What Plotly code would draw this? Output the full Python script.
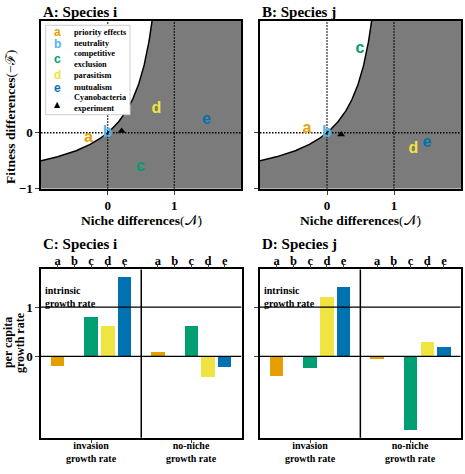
import numpy as np
import plotly.graph_objects as go

W, H = 465, 474

# ---------------- data ----------------
letters = ["a", "b", "c", "d", "e"]
colors = ["#E69F00", "#56B4E9", "#009E73", "#F0E442", "#0072B2"]
legend_labels = ["priority effects", "neutrality", "competitive<br>exclusion",
                 "parasitism", "mutualism"]
group_labels = ["invasion<br>growth rate", "no-niche<br>growth rate"]

A_niche = [-0.29, 0.0, 0.49, 0.73, 1.48]
A_fitness = [-0.09, 0.0, -0.61, 0.42, 0.22]
A_exp = [0.21, 0.03]

B_niche = [-0.30, 0.0, 0.49, 1.29, 1.49]
B_fitness = [0.07, 0.0, 1.49, -0.29, -0.19]
B_exp = [0.21, -0.03]

C_invasion = [-0.20, 0.0, 0.80, 0.60, 1.60]
C_noniche = [0.07, 0.0, 0.60, -0.42, -0.22]
D_invasion = [-0.40, 0.0, -0.25, 1.20, 1.40]
D_noniche = [-0.07, 0.0, -1.50, 0.29, 0.18]

bar_pos_inv = [1, 2, 3, 4, 5]
bar_pos_non = [7, 8, 9, 10, 11]
group_pos = [3, 9]

SERIF = "Liberation Serif"
SANS = "Liberation Sans"
GREY = "#7b7b7b"
DOT = "1.5px,1.5px"


def px(x):
    return x / W


def py(y):
    return 1 - y / H


fig = go.Figure()

# ---------------- top panels ----------------
N = np.linspace(-1, 2 / 3, 200)
F = N / (1 - N)
for xa, ya, nx, fy, ex in [("x", "y", A_niche, A_fitness, A_exp),
                           ("x2", "y2", B_niche, B_fitness, B_exp)]:
    poly_x = list(N) + [2, 2, -1]
    poly_y = list(F) + [2, -1, -1]
    fig.add_trace(go.Scatter(x=poly_x, y=poly_y, fill="toself", fillcolor=GREY,
                             mode="none", xaxis=xa, yaxis=ya, showlegend=False,
                             hoverinfo="skip"))
    fig.add_trace(go.Scatter(x=N, y=F, mode="lines", line=dict(color="black", width=1.5),
                             xaxis=xa, yaxis=ya, showlegend=False, hoverinfo="skip"))
    fig.add_trace(go.Scatter(x=[-1, 2], y=[0, 0], mode="lines",
                             line=dict(color="black", width=1.3, dash=DOT),
                             xaxis=xa, yaxis=ya, showlegend=False, hoverinfo="skip"))
    for v in [0, 1]:
        fig.add_trace(go.Scatter(x=[v, v], y=[-1, 2], mode="lines",
                                 line=dict(color="black", width=1.3, dash=DOT),
                                 xaxis=xa, yaxis=ya, showlegend=False, hoverinfo="skip"))
    fig.add_trace(go.Scatter(x=nx, y=fy, mode="text", text=[f"<b>{l}</b>" for l in letters],
                             textfont=dict(family=SANS, size=16, color=colors),
                             textposition="middle center",
                             xaxis=xa, yaxis=ya, showlegend=False, hoverinfo="skip"))
    fig.add_trace(go.Scatter(x=[ex[0]], y=[ex[1]], mode="markers",
                             marker=dict(symbol="triangle-up", size=7, color="black"),
                             xaxis=xa, yaxis=ya, showlegend=False, hoverinfo="skip"))

# ---------------- bottom panels ----------------
for xa, ya, inv, non in [("x3", "y3", C_invasion, C_noniche),
                         ("x4", "y4", D_invasion, D_noniche)]:
    fig.add_trace(go.Bar(x=bar_pos_inv + bar_pos_non, y=inv + non,
                         marker=dict(color=colors + colors, line=dict(width=0)),
                         width=0.8, xaxis=xa, yaxis=ya, showlegend=False,
                         hoverinfo="skip"))

tickfont = dict(family=SERIF, size=13, color="black", weight="bold")
frame = dict(showline=True, linecolor="black", linewidth=1.5, mirror=True,
             showgrid=False, zeroline=False)

top_y = [py(192), py(21)]
bot_y = [py(445.3), py(274)]
A_x = [px(41), px(241)]
B_x = [px(260), px(461)]
C_x = [px(41), px(241.5)]
D_x = [px(260), px(460.7)]
let_tickfont = dict(family=SERIF, size=12.5, color="black", weight="bold")

lay = dict(
    width=W, height=H, autosize=False, margin=dict(l=0, r=0, t=0, b=0),
    paper_bgcolor="white", plot_bgcolor="white", bargap=0,
    xaxis=dict(domain=A_x, anchor="y", range=[-1, 2], tickvals=[0, 1], ticktext=["0", "1"],
               ticks="outside", ticklen=4, ticklabelstandoff=0, tickfont=tickfont, **frame),
    yaxis=dict(domain=top_y, anchor="x", range=[-1, 2], tickvals=[-1, 0],
               ticktext=["\u22121", "0"], ticks="outside", ticklen=4, tickfont=tickfont, **frame),
    xaxis2=dict(domain=B_x, anchor="y2", range=[-1, 2], tickvals=[0, 1], ticktext=["0", "1"],
                ticks="outside", ticklen=4, ticklabelstandoff=0, tickfont=tickfont, **frame),
    yaxis2=dict(domain=top_y, anchor="x2", range=[-1, 2], tickvals=[-1, 0],
                showticklabels=False, ticks="outside", ticklen=4, **frame),
    xaxis3=dict(domain=C_x, anchor="y3", range=[0, 12], tickvals=group_pos,
                showticklabels=False, ticks="outside", ticklen=3, **frame),
    yaxis3=dict(domain=bot_y, anchor="x3", range=[-1.66, 1.77], tickvals=[0, 1],
                ticktext=["0", "1"], ticks="outside", ticklen=4, tickfont=tickfont, **frame),
    xaxis4=dict(domain=D_x, anchor="y4", range=[0, 12], tickvals=group_pos,
                showticklabels=False, ticks="outside", ticklen=3, **frame),
    yaxis4=dict(domain=bot_y, anchor="x4", range=[-1.66, 1.77], tickvals=[0, 1],
                showticklabels=False, ticks="outside", ticklen=4, **frame),
    xaxis5=dict(domain=C_x, anchor="y3", overlaying="x3", side="top",
                range=[0, 12], tickvals=bar_pos_inv + bar_pos_non, ticktext=letters * 2,
                ticks="outside", ticklen=3, ticklabelstandoff=-5, showgrid=False,
                zeroline=False, showline=False, tickfont=let_tickfont),
    xaxis6=dict(domain=D_x, anchor="y4", overlaying="x4", side="top",
                range=[0, 12], tickvals=bar_pos_inv + bar_pos_non, ticktext=letters * 2,
                ticks="outside", ticklen=3, ticklabelstandoff=-5, showgrid=False,
                zeroline=False, showline=False, tickfont=let_tickfont),
)
fig.update_layout(**lay)
fig.add_trace(go.Scatter(x=[0], y=[0], mode="markers", marker=dict(opacity=0),
                         xaxis="x5", yaxis="y3", showlegend=False, hoverinfo="skip"))
fig.add_trace(go.Scatter(x=[0], y=[0], mode="markers", marker=dict(opacity=0),
                         xaxis="x6", yaxis="y4", showlegend=False, hoverinfo="skip"))

shapes = []
anns = []


def txt(x, y, text, size, xanchor="left", angle=0, family=SERIF, color="black",
        align="left"):
    anns.append(dict(xref="paper", yref="paper", x=px(x), y=py(y), xanchor=xanchor,
                     yanchor="middle", text=text, showarrow=False, textangle=angle,
                     align=align, font=dict(family=family, size=size, color=color)))


for xa, ya, x0 in [("x3", "y3", 41), ("x4", "y4", 260)]:
    for v in [0, 1]:
        shapes.append(dict(type="line", xref=xa, yref=ya, x0=0, x1=12, y0=v, y1=v,
                           line=dict(color="black", width=1.2), layer="above"))
    shapes.append(dict(type="line", xref=xa, yref=f"{ya} domain", x0=6, x1=6, y0=0, y1=1,
                       line=dict(color="black", width=1.5), layer="above"))
    txt(x0 + 2, 302, "<b>intrinsic<br>growth rate</b>", 10)
    for gp, gl in zip(group_pos, group_labels):
        cx = x0 + gp * (200.3 / 12)
        txt(cx, 460, f"<b>{gl}</b>", 10, xanchor="center", align="center")

# legend box
shapes.append(dict(type="rect", xref="paper", yref="paper", x0=px(45.7), x1=px(130),
                   y0=py(116.7), y1=py(25.7), fillcolor="white",
                   line=dict(color="#cccccc", width=1), layer="above"))
leg_rows = [32.7, 44.3, 60.5, 76.7, 89.2]
for l, c, lab, yy in zip(letters, colors, legend_labels, leg_rows):
    txt(57.5, yy, f"<b>{l}</b>", 12, xanchor="center", family=SANS, color=c)
    txt(72, yy, f"<b>{lab}</b>", 8.3)
txt(72, 104.8, "<b>Cyanobacteria<br>experiment</b>", 8.3)
txt(57.5, 106, "\u25B2", 8, xanchor="center", family="DejaVu Sans")

# panel titles
for t, x, y in [("A: Species i", 41, 12), ("B: Species j", 260, 12),
                ("C: Species i", 41, 248), ("D: Species j", 260, 248)]:
    txt(x, y, f"<b>{t}</b>", 15)

# axis titles
for cx in [141, 360.5]:
    txt(cx, 224, "<b>Niche differences</b>(\U0001D4A9)", 13.5, xanchor="center")
txt(11, 119, "<b>Fitness differences</b>(\u2212\u2131)", 13.5, xanchor="center", angle=-90)
txt(8, 349, "<b>per capita</b>", 12, xanchor="center", angle=-90)
txt(20, 349, "<b>growth rate</b>", 12, xanchor="center", angle=-90)

fig.update_layout(shapes=shapes, annotations=anns)
fig.write_html("out.html", config={"responsive": False},
               post_script="document.body.style.margin='0';"
                           "document.documentElement.style.overflow='hidden';")
